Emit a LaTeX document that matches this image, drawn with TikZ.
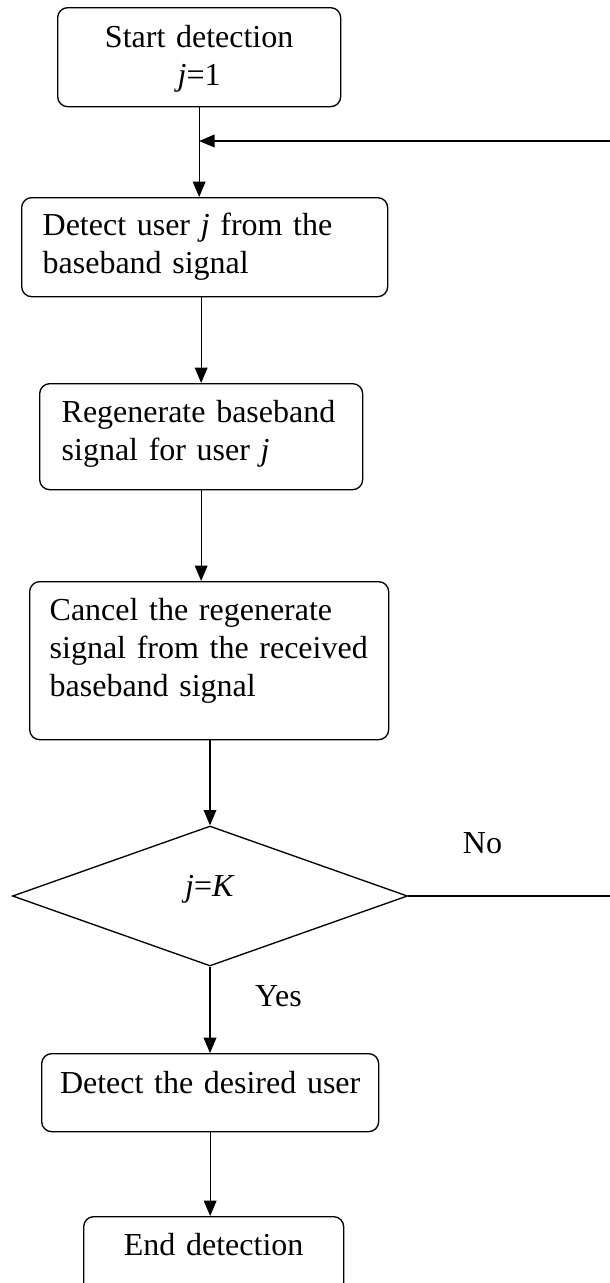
\documentclass[tikz,border=0pt]{standalone}
\usepackage{fontspec}
\setmainfont{Liberation Serif}
\usetikzlibrary{shapes.geometric,arrows.meta}
\DeclareRobustCommand\flowfont{\fontsize{24pt}{28.5pt}\selectfont\spaceskip=0.18em plus 0.05em minus 0.02em\relax}

\begin{document}
\begin{tikzpicture}[x=0.75pt,y=-0.75pt,
	every node/.style={font=\flowfont},
	stepbox/.style={draw=black,line width=1pt,rounded corners=7.5pt,anchor=north west,inner ysep=0pt},
	decide/.style={draw=black,line width=1pt,shape=diamond,inner sep=0pt},
	flow/.style={line width=1pt,-{Triangle[length=11.5pt,width=9.5pt]}}]

	\path[use as bounding box,clip] (0,0) rectangle (610,1283);

	\node[stepbox,inner xsep=0pt,text width=212.25pt,align=center,text height=30pt,text depth=44.25pt] (start) at (57,7) {Start detection\\\textit{j}=1};
	\node[stepbox,inner xsep=15.75pt,text width=243pt,align=left,text height=28.5pt,text depth=45.75pt] (detect) at (21,197) {Detect user \textit{j} from the\\baseband signal};
	\node[stepbox,inner xsep=16.5pt,text width=209.25pt,align=left,text height=29.25pt,text depth=50.25pt] (regen) at (39,383) {Regenerate baseband\\signal for user \textit{j}};
	\node[stepbox,inner xsep=15pt,text width=239.25pt,align=left,text height=29.25pt,text depth=89.25pt] (cancel) at (29,581) {Cancel the regenerate\\signal from the received\\baseband signal};
	\node[decide,minimum width=296.25pt,minimum height=105pt,text height=8pt,text depth=8pt] (dec) at (210,896) {\textit{j}=\textit{K}};
	\node[stepbox,inner xsep=0pt,text width=252.75pt,align=center,text height=30pt,text depth=28.5pt] (desired) at (41,1053) {Detect the desired user};
	\node[stepbox,inner xsep=0pt,text width=195pt,align=center,text height=29.25pt,text depth=45pt] (end) at (83,1216) {End detection};

	\node[anchor=base] (no) at (482.5,853) {No};
	\node[anchor=base] (yes) at (278.5,1006) {Yes};

	\coordinate (back) at (610,141);
	\coordinate (out) at (610,896);

	\path[flow] (start.south) edge (start.south |- detect.north);
	\path[flow] (back) edge (back -| start.south);
	\path[flow] (detect.south -| regen.north) edge (regen.north);
	\path[flow] (regen.south) edge (regen.south |- cancel.north);
	\path[flow] (dec.north |- cancel.south) edge (dec.north);
	\path[flow] (dec.south) edge (dec.south |- desired.north);
	\path[flow] (desired.south) edge (desired.south |- end.north);
	\path[-,line width=1pt] (dec.east) edge (out);
\end{tikzpicture}
\end{document}
